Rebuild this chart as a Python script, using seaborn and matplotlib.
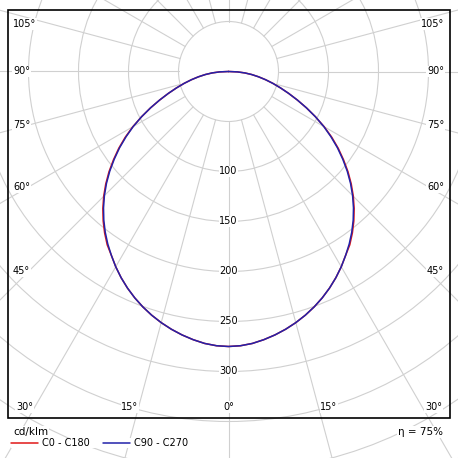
import numpy as np
import pandas as pd
import matplotlib
matplotlib.use("Agg")
import matplotlib.pyplot as plt
import seaborn as sns
from matplotlib.patches import Circle, Rectangle

# Data (cd/klm per gamma angle, one half of each plane)
gamma = [0, 2.5, 5, 7.5, 10, 12.5, 15, 17.5, 20, 22.5, 25, 27.5, 30, 32.5, 35, 37.5,
         40, 42.5, 45, 47.5, 50, 52.5, 55, 57.5, 60, 62.5, 65, 67.5, 70, 72.5, 75,
         77.5, 80, 82.5, 85, 87.5, 90]
i_c0_c180 = [275, 274.5, 273, 270.5, 267.5, 264, 260, 255.5, 250.5, 245, 239, 232.5,
             225.5, 218, 211.5, 203.5, 195, 186, 176.5, 166.5, 156, 145, 134, 122.5,
             110.5, 98, 86, 74.5, 64, 54.5, 46, 38, 30.5, 23.5, 16.5, 9, 0]
i_c90_c270 = [275, 274.5, 273, 270.5, 267.5, 264, 260, 255.5, 250.5, 245, 239, 232.5,
              225.5, 218, 210.5, 202.5, 194, 185, 175.5, 165.5, 155, 144, 133, 121.5,
              110, 98, 86, 74.5, 64, 54.5, 46, 38, 30.5, 23.5, 16.5, 9, 0]
ring_values = [100, 150, 200, 250, 300]
side_labels = ["105°", "90°", "75°", "60°", "45°"]
bottom_labels = ["30°", "15°", "0°", "15°", "30°"]
plane_names = ["C0 - C180", "C90 - C270"]
unit_label = "cd/klm"
eta_label = "η = 75%"

sns.set_theme(style="white")
plt.rcParams["font.family"] = ["DejaVu Sans"]
plt.rcParams["text.color"] = "black"

# polar centre in pixels, 1 px per cd/klm
cx, cy = 228.5, 71.5
grid_color = "#d0d0d0"

def polar_frame(name, values):
    g = np.radians(np.array([-a for a in gamma[::-1]] + gamma[1:]))
    r = np.array(values[::-1] + values[1:], dtype=float)
    return pd.DataFrame({"x": cx + r * np.sin(g), "y": cy + r * np.cos(g), "plane": name})

df = pd.concat([polar_frame(plane_names[0], i_c0_c180),
                polar_frame(plane_names[1], i_c90_c270)], ignore_index=True)

fig = plt.figure(figsize=(4.58, 4.58), dpi=100)
ax = fig.add_axes([0, 0, 1, 1])
ax.set_xlim(0, 458)
ax.set_ylim(458, 0)
ax.set_axis_off()

# grid: rings every 50, spokes every 15 deg starting at the inner ring
for r in range(50, 501, 50):
    ax.add_patch(Circle((cx, cy), r, fill=False, ec=grid_color, lw=0.8, zorder=1))
for a in range(0, 360, 15):
    t = np.radians(a)
    ax.plot([cx + 50 * np.sin(t), cx + 700 * np.sin(t)],
            [cy + 50 * np.cos(t), cy + 700 * np.cos(t)],
            color=grid_color, lw=0.8, zorder=1)

sns.lineplot(data=df, x="x", y="y", hue="plane", hue_order=plane_names,
             palette=["#e01818", "#2222aa"], sort=False, estimator=None,
             linewidth=1.1, ax=ax, zorder=3)

# frame
ax.add_patch(Rectangle((7.5, 10), 442.5, 408, fill=False, ec="black", lw=1.2, zorder=4))

bb = dict(fc="white", ec="none", pad=0.5)
fs = 7
for v in ring_values:
    ax.text(cx, cy + v, str(v), ha="center", va="center", fontsize=fs, bbox=bb, zorder=5)

side_y = [24, 71.5, 125, 187, 271.5]
for lab, y in zip(side_labels, side_y):
    ax.text(13, y, lab, ha="left", va="center", fontsize=fs, bbox=bb, zorder=5)
    ax.text(444, y, lab, ha="right", va="center", fontsize=fs, bbox=bb, zorder=5)

bottom_x = [16, 130, 228.5, 329, 442]
bottom_ha = ["left", "center", "center", "center", "right"]
for lab, x, ha in zip(bottom_labels, bottom_x, bottom_ha):
    ax.text(x, 407, lab, ha=ha, va="center", fontsize=fs, bbox=bb, zorder=5)

ax.text(13, 432, unit_label, ha="left", va="center", fontsize=7.5, bbox=bb, zorder=5)
ax.text(443, 432, eta_label, ha="right", va="center", fontsize=7.5, bbox=bb, zorder=5)

handles, labels = ax.get_legend_handles_labels()
ax.legend(handles, labels, loc="upper left", bbox_to_anchor=(11 / 458, 1 - 438 / 458),
          ncol=2, frameon=True, fancybox=False, edgecolor="none", framealpha=1,
          fontsize=fs, handlelength=2.8, handletextpad=0.35, columnspacing=1.4,
          borderpad=0.0, borderaxespad=0, labelcolor="black")

fig.savefig("out.png", dpi=100)
